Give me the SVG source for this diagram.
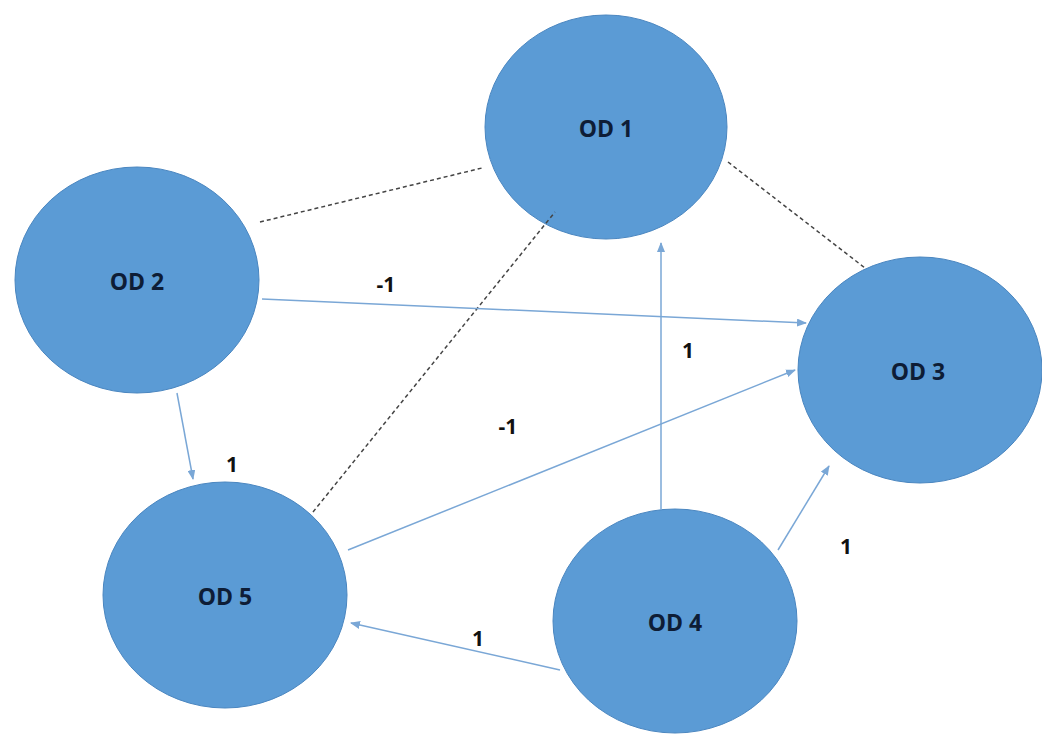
<svg xmlns="http://www.w3.org/2000/svg" width="1042" height="754" viewBox="0 0 1042 754">
<defs>
<style>
.n{fill:#5b9bd5;stroke:#4a86c0;stroke-width:1}
.t{font-family:"Open Sans","Liberation Sans",Arial,sans-serif;font-weight:bold;font-size:23px;fill:#0e1d36;text-anchor:middle}
.l{font-family:"Open Sans","Liberation Sans",Arial,sans-serif;font-weight:bold;font-size:21px;fill:#111;text-anchor:middle}
.a{stroke:#7aa7d6;stroke-width:1.5;fill:none;marker-end:url(#ah)}
.d{stroke:#444;stroke-width:1.5;stroke-dasharray:4 3;fill:none}
</style>
<marker id="ah" markerWidth="10" markerHeight="8" refX="9" refY="4" orient="auto" markerUnits="userSpaceOnUse"><path d="M0,0 L10,4 L0,8 z" fill="#7aa7d6"/></marker>
</defs>
<rect width="1042" height="754" fill="#fff"/>
<g id="od1"><ellipse class="n" cx="606" cy="127" rx="121" ry="112"/><text class="t" x="606" y="137">OD 1</text></g>
<g id="od2"><ellipse class="n" cx="137" cy="280" rx="122" ry="113"/><text class="t" x="137" y="290">OD 2</text></g>
<g id="od3"><ellipse class="n" cx="920" cy="370" rx="122" ry="113"/><text class="t" x="918" y="380">OD 3</text></g>
<g id="od5"><ellipse class="n" cx="225" cy="595" rx="122" ry="113"/><text class="t" x="225" y="605">OD 5</text></g>
<g id="od4"><ellipse class="n" cx="675" cy="621" rx="122" ry="112"/><text class="t" x="675" y="631">OD 4</text></g>
<g id="connectors">
<path class="d" d="M260,222 L482,168"/>
<path class="d" d="M728,162 L865,268"/>
<path class="d" d="M313,512 L555,212"/>
<path class="a" d="M262,299 L806,323"/>
<path class="a" d="M661,510 L661,243"/>
<path class="a" d="M348,550 L795,370"/>
<path class="a" d="M177,393 L193,479"/>
<path class="a" d="M778,550 L829,466"/>
<path class="a" d="M560,670 L351,623"/>
<text class="l" x="386" y="292">-1</text>
<text class="l" x="688" y="358">1</text>
<text class="l" x="508" y="434">-1</text>
<text class="l" x="232" y="472">1</text>
<text class="l" x="846" y="554">1</text>
<text class="l" x="478" y="646">1</text>
</g>
</svg>
